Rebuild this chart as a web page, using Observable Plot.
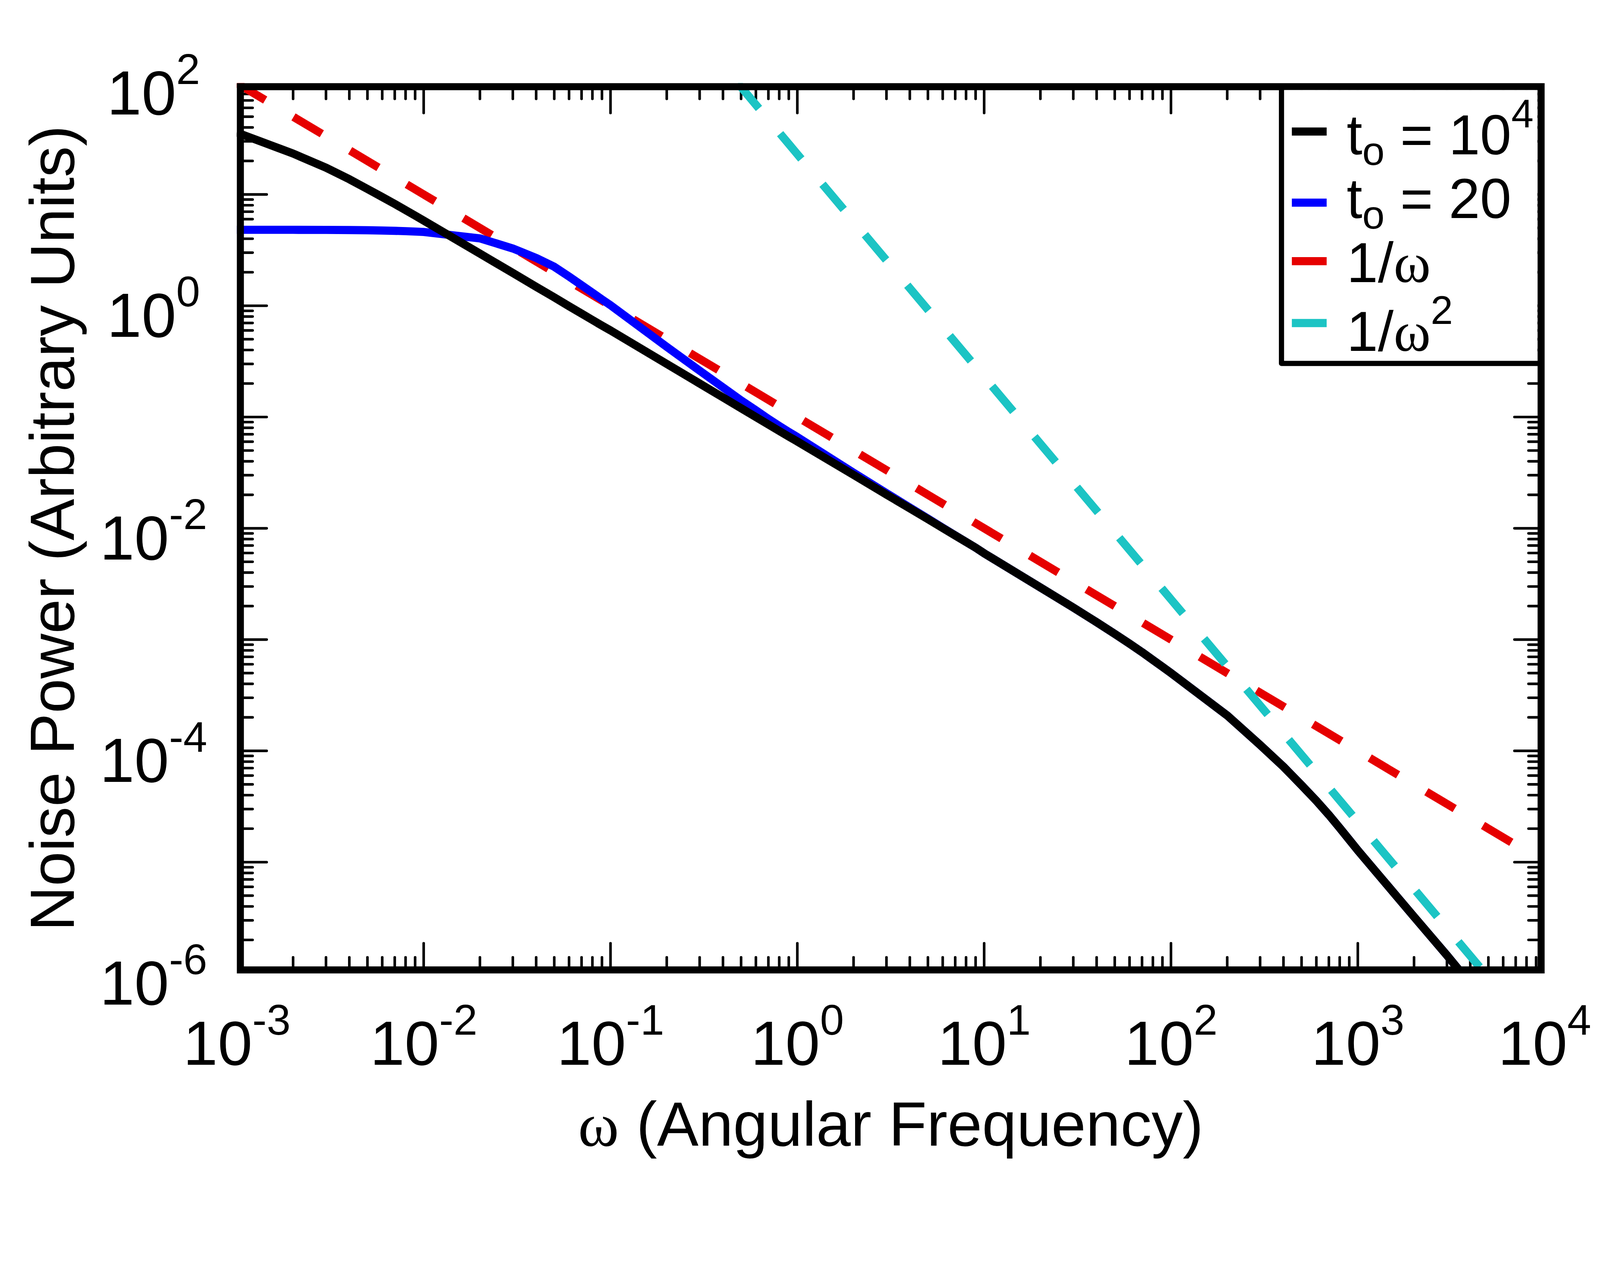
<!DOCTYPE html>
<html>
<head>
<meta charset="utf-8">
<script src="https://cdn.jsdelivr.net/npm/d3@7"></script>
<script src="https://cdn.jsdelivr.net/npm/@observablehq/plot@0.6"></script>
<style>
html, body { margin: 0; padding: 0; background: #fff; }
svg { display: block; }
</style>
</head>
<body>
<div id="chart"></div>
<script>
// ---------- data ----------
const omega = [
  0.001, 0.002, 0.003, 0.004, 0.005, 0.006, 0.007, 0.008, 0.009,
  0.01, 0.02, 0.03, 0.04, 0.05, 0.06, 0.07, 0.08, 0.09,
  0.1, 0.2, 0.3, 0.4, 0.5, 0.6, 0.7, 0.8, 0.9,
  1, 2, 3, 4, 5, 6, 7, 8, 9,
  10, 20, 30, 40, 50, 60, 70, 80, 90,
  100, 200, 300, 400, 500, 600, 700, 800, 900,
  1000, 2000, 3000, 4000, 5000
];
const powerT1e4 = [
  36.0, 23.3, 17.4, 13.7, 11.2, 9.48, 8.22, 7.23, 6.46,
  5.82, 2.94, 1.97, 1.48, 1.19, 0.99, 0.85, 0.745, 0.663,
  0.600, 0.300, 0.200, 0.150, 0.120, 0.100, 0.0857, 0.0750, 0.0667,
  0.0603, 0.0302, 0.0201, 0.0151, 0.0121, 0.01005, 0.00861, 0.00754, 0.0067,
  0.00596, 0.00294, 0.00194, 0.001432, 0.001125, 0.00092, 0.000771, 0.000656, 0.00057,
  0.000501, 0.000208, 0.000113, 7.21e-5, 4.91e-5, 3.56e-5, 2.66e-5, 2.03e-5, 1.59e-5,
  1.276e-5, 3.23e-6, 1.455e-6, 8.09e-7, 5.26e-7
];
const powerT20 = [
  4.81, 4.81, 4.80, 4.79, 4.77, 4.74, 4.71, 4.68, 4.64,
  4.60, 4.03, 3.27, 2.69, 2.24, 1.83, 1.53, 1.31, 1.14,
  1.01, 0.427, 0.261, 0.1845, 0.141, 0.115, 0.0962, 0.0832, 0.0735,
  0.0661, 0.0316, 0.0207, 0.01538, 0.01224, 0.01012, 0.00864, 0.00755, 0.0067,
  0.00596, 0.00294, 0.00194, 0.001432, 0.001125, 0.00092, 0.000771, 0.000656, 0.00057,
  0.000501, 0.000208, 0.000113, 7.21e-5, 4.91e-5, 3.56e-5, 2.66e-5, 2.03e-5, 1.59e-5,
  1.276e-5, 3.23e-6, 1.455e-6, 8.09e-7, 5.26e-7
];
const omegaInvW = [0.001, 0.01, 0.1, 1, 10, 100, 1000, 10000];
const powerInvW = [100, 10, 1, 0.1, 0.01, 0.001, 0.0001, 0.00001];
const omegaInvW2 = [0.48, 1, 10, 100, 1000, 5000];
const powerInvW2 = [100, 23, 0.23, 0.0023, 0.000023, 9.2e-7];

const xTickValues = [1e-3, 1e-2, 1e-1, 1, 10, 100, 1000, 10000];
const xTickLabels = ["10^-3", "10^-2", "10^-1", "10^0", "10^1", "10^2", "10^3", "10^4"];
const yTickValues = [1e2, 1, 1e-2, 1e-4, 1e-6];
const yTickLabels = ["10^2", "10^0", "10^-2", "10^-4", "10^-6"];
const yMajorValues = [1e-6, 1e-5, 1e-4, 1e-3, 1e-2, 1e-1, 1, 10, 100];

const seriesNames = ["t_o = 10^4", "t_o = 20", "1/ω", "1/ω^2"];
const seriesColors = ["#000000", "#0000ff", "#e60000", "#1cc4c4"];
const xTitle = "ω (Angular Frequency)";
const yTitle = "Noise Power (Arbitrary Units)";

// ---------- layout ----------
const W = 4320, H = 3240;
const mL = 639, mR = 150, mT = 224, mB = 613;
const fw = W - mL - mR, fh = H - mT - mB;
const FONT = "'Liberation Sans', Arial, Helvetica, sans-serif";
const SERIF = "'Liberation Serif', 'Times New Roman', serif";

const rows = (xs, ys) => xs.map((x, i) => ({omega: x, power: ys[i]}));
const blackRows = rows(omega, powerT1e4);
const blueRows = rows(omega, powerT20);
const redRows = rows(omegaInvW, powerInvW);
const cyanRows = rows(omegaInvW2, powerInvW2);

const xMajorInner = xTickValues.slice(1, -1);
const yMajorInner = yMajorValues.slice(1, -1);
const xMinor = d3.range(-3, 4).flatMap(e => d3.range(2, 10).map(m => m * Math.pow(10, e)));
const yMinor = d3.range(-6, 2).flatMap(e => d3.range(2, 10).map(m => m * Math.pow(10, e)));

const tickStyle = {stroke: "black", strokeWidth: 7, strokeLinecap: "round"};
const lineStyle = {x: "omega", y: "power", strokeWidth: 22, strokeLinecap: "butt", clip: true};
const E = 6; // keep tick caps hidden under the frame

const svgEl = Plot.plot({
  width: W, height: H,
  marginLeft: mL, marginRight: mR, marginTop: mT, marginBottom: mB,
  style: {fontFamily: FONT, background: "white", color: "black"},
  x: {type: "log", domain: [1e-3, 1e4], axis: null},
  y: {type: "log", domain: [1e-6, 1e2], axis: null},
  marks: [
    Plot.tickX(xMinor, {x: d => d, insetTop: fh - 43, insetBottom: E, ...tickStyle}),
    Plot.tickX(xMinor, {x: d => d, insetBottom: fh - 43, insetTop: E, ...tickStyle}),
    Plot.tickX(xMajorInner, {x: d => d, insetTop: fh - 81, insetBottom: E, ...tickStyle}),
    Plot.tickX(xMajorInner, {x: d => d, insetBottom: fh - 81, insetTop: E, ...tickStyle}),
    Plot.tickY(yMinor, {y: d => d, insetRight: fw - 43, insetLeft: E, ...tickStyle}),
    Plot.tickY(yMinor, {y: d => d, insetLeft: fw - 43, insetRight: E, ...tickStyle}),
    Plot.tickY(yMajorInner, {y: d => d, insetRight: fw - 81, insetLeft: E, ...tickStyle}),
    Plot.tickY(yMajorInner, {y: d => d, insetLeft: fw - 81, insetRight: E, ...tickStyle}),
    Plot.line(redRows, {...lineStyle, stroke: seriesColors[2], strokeDasharray: "89,89"}),
    Plot.line(cyanRows, {...lineStyle, stroke: seriesColors[3], strokeDasharray: "89,89"}),
    Plot.line(blueRows, {...lineStyle, stroke: seriesColors[1]}),
    Plot.line(blackRows, {...lineStyle, stroke: seriesColors[0]}),
    Plot.frame({stroke: "black", strokeWidth: 19, inset: 9.5}),
    Plot.text(xTickValues, {x: d => d, text: (d, i) => xTickLabels[i], frameAnchor: "bottom",
      dy: 246, fontSize: 168, lineAnchor: "bottom", textAnchor: "middle", fill: "black", ariaDescription: "xticklabels"}),
    Plot.text(yTickValues, {y: d => d, text: (d, i) => yTickLabels[i], frameAnchor: "left",
      dx: -225, dy: 84, fontSize: 168, lineAnchor: "bottom", textAnchor: "middle", fill: "black", ariaDescription: "yticklabels"}),
    Plot.text([xTitle], {text: d => d, frameAnchor: "bottom", dy: 465, fontSize: 168,
      lineAnchor: "bottom", textAnchor: "middle", fill: "black", ariaDescription: "xtitle"}),
    Plot.text([yTitle], {text: d => d, frameAnchor: "left", dx: -440, rotate: -90, fontSize: 168,
      lineAnchor: "bottom", textAnchor: "middle", fill: "black", ariaDescription: "ytitle"})
  ]
});

document.getElementById("chart").appendChild(svgEl);
const svg = d3.select(svgEl);

function markTexts(desc) {
  return svg.selectAll(`g[aria-description="${desc}"] text`);
}

// superscript exponents on tick labels
function superscript(desc, supSize, shift) {
  markTexts(desc).each(function () {
    const [base, exp] = this.textContent.split("^");
    const t = d3.select(this);
    t.text(null);
    t.append("tspan").text(base);
    if (exp !== undefined) t.append("tspan").attr("font-size", supSize).attr("dy", -shift).text(exp);
  });
}
superscript("xticklabels", 116, 81);
superscript("yticklabels", 116, 82);

// serif omega in the x title
markTexts("xtitle").each(function () {
  const s = this.textContent;
  const t = d3.select(this);
  t.text(null);
  t.append("tspan").attr("font-family", SERIF).text(s.slice(0, 1));
  t.append("tspan").text(s.slice(1));
});

// ---------- legend (inside the frame, top right) ----------
const lg = svg.append("g").attr("font-family", FONT).attr("font-size", 152)
  .attr("fill", "black").attr("text-anchor", "start");
lg.append("rect").attr("x", 3460).attr("y", 243).attr("width", 4151 - 3460).attr("height", 981 - 243).attr("fill", "white");
lg.append("path").attr("d", "M3460,243V981H4151").attr("fill", "none").attr("stroke", "black")
  .attr("stroke-width", 14).attr("stroke-linejoin", "round").attr("stroke-linecap", "round");
const swatchY = [355, 547, 705, 872];
const baseY = [417, 589, 761, 947];
seriesNames.forEach((name, i) => {
  lg.append("line").attr("x1", 3488).attr("x2", 3582).attr("y1", swatchY[i]).attr("y2", swatchY[i])
    .attr("stroke", seriesColors[i]).attr("stroke-width", 22);
  const t = lg.append("text").attr("x", 3636).attr("y", baseY[i]).attr("text-anchor", "start");
  const m = name.match(/^([^_^]*)(?:_(\w))?([^_^]*)(?:\^(\w))?$/);
  const pieces = [];
  if (m[1]) pieces.push([m[1], "n"]);
  if (m[2]) pieces.push([m[2], "sub"]);
  if (m[3]) pieces.push([m[3], "n"]);
  if (m[4]) pieces.push([m[4], "sup"]);
  let offset = 0;
  pieces.forEach(([txt, kind]) => {
    const target = kind === "sub" ? 28 : kind === "sup" ? -73 : 0;
    const parts = kind === "n" ? txt.split(/(ω)/).filter(s => s.length) : [txt];
    parts.forEach((p, j) => {
      const sp = t.append("tspan").text(p);
      if (j === 0 && target !== offset) { sp.attr("dy", target - offset); offset = target; }
      if (kind !== "n") sp.attr("font-size", 108);
      if (p === "ω") sp.attr("font-family", SERIF);
    });
  });
});
</script>
</body>
</html>
